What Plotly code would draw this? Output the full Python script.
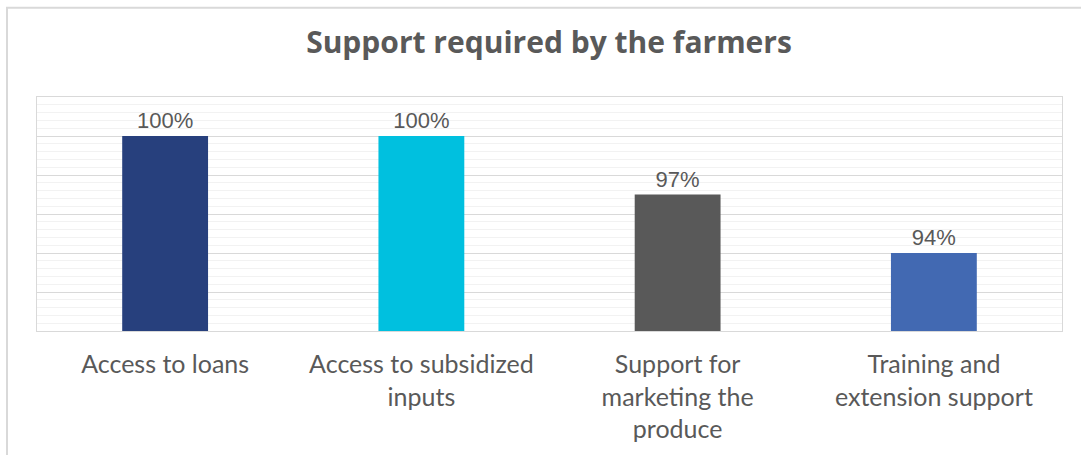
import plotly.graph_objects as go

categories = ["Access to loans", "Access to subsidized<br>inputs",
              "Support for<br>marketing the<br>produce", "Training and<br>extension support"]
values = [100, 100, 97, 94]
colors = ["#27407D", "#00C0DF", "#595959", "#4269B2"]

W, H = 1081, 455
L, R, T, B = 37, 19, 97, 122
pw, ph = W - L - R, H - T - B

fig = go.Figure()
fig.add_trace(go.Bar(
    x=categories, y=values,
    marker=dict(color=colors, line=dict(width=0)),
    texttemplate="%{y}%", textposition="outside", cliponaxis=False,
    textfont=dict(family="Liberation Sans", size=22, color="#595959"),
    hoverinfo="skip",
))

fig.update_layout(
    width=W, height=H,
    margin=dict(l=L, r=R, t=T, b=B),
    paper_bgcolor="white", plot_bgcolor="white",
    bargap=0.665,
    showlegend=False,
    font=dict(family="Lato", color="#595959"),
    title=dict(text="<b>Support required by the farmers</b>",
               font=dict(family="Open Sans", size=30, color="#595959"),
               x=549 / W, xanchor="center", xref="container",
               y=1 - 42 / H, yanchor="middle", yref="container"),
    xaxis=dict(type="category", showgrid=False, ticks="", tickangle=0,
               ticklabelstandoff=11,
               tickfont=dict(family="Lato", size=25, color="#595959"),
               showline=True, linecolor="#D9D9D9", linewidth=1, mirror=True),
    yaxis=dict(range=[90, 102], dtick=2, showticklabels=False, ticks="",
               showgrid=True, gridcolor="#D9D9D9", gridwidth=1, zeroline=False,
               showline=True, linecolor="#D9D9D9", linewidth=1, mirror=True,
               minor=dict(dtick=0.4, showgrid=True, gridcolor="#F2F2F2", gridwidth=1)),
)

# outer chart border (left and top visible in reference)
x0 = (7 - L) / pw
y1 = (H - B - 7) / ph
fig.add_shape(type="rect", xref="paper", yref="paper", x0=x0, y0=-2, x1=1.5, y1=y1,
              line=dict(color="#D9D9D9", width=2), fillcolor="rgba(0,0,0,0)", layer="below")

fig.write_html("out.html")
